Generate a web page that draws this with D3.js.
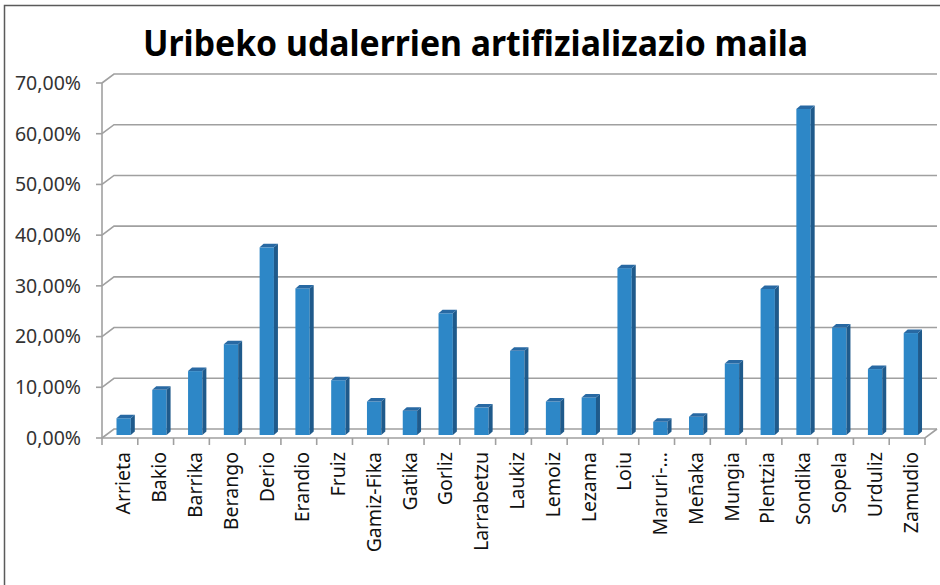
<!DOCTYPE html>
<html>
<head>
<meta charset="utf-8">
<script src="https://cdn.jsdelivr.net/npm/d3@7"></script>
<style>
html,body{margin:0;padding:0;background:#fff;}
svg{display:block;}
</style>
</head>
<body>
<svg id="chart" width="940" height="585"></svg>
<script>
const title = "Uribeko udalerrien artifizializazio maila";
const categories = ["Arrieta","Bakio","Barrika","Berango","Derio","Erandio","Fruiz","Gamiz-Fika","Gatika","Gorliz","Larrabetzu","Laukiz","Lemoiz","Lezama","Loiu","Maruri-…","Meñaka","Mungia","Plentzia","Sondika","Sopela","Urduliz","Zamudio"];
const values = [3.3, 8.9, 12.6, 17.9, 37.0, 28.9, 10.8, 6.6, 4.8, 24.0, 5.4, 16.6, 6.6, 7.4, 32.9, 2.6, 3.6, 14.1, 28.8, 64.3, 21.2, 13.0, 20.1];
const yTicks = [0, 10, 20, 30, 40, 50, 60, 70];
const yTickLabels = ["0,00%","10,00%","20,00%","30,00%","40,00%","50,00%","60,00%","70,00%"];

const svg = d3.select("#chart");
const font = "'Noto Sans', 'Open Sans', sans-serif";

// chart area border
svg.append("rect").attr("x",4.5).attr("y",5.5).attr("width",960).attr("height",620)
  .attr("fill","none").attr("stroke","#5a5a5a").attr("stroke-width",1.5);

const x = d3.scaleBand().domain(categories).range([102, 925]).padding(0);
const y = d3.scaleLinear().domain([0, 70]).range([438, 83]);
const dX = 12, dY = -9;         // depth of the 3D wall
const bdX = 4, bdY = -3.5;      // bar depth
const bOff = -3;                // bar baseline offset (mid depth)

// gridlines (back wall + side diagonal)
const grid = svg.append("g");
yTicks.forEach(t => {
  const yy = y(t);
  grid.append("path")
    .attr("d", `M${x.range()[0]},${yy} L${x.range()[0]+dX},${yy+dY} L${x.range()[1]+dX},${yy+dY}`)
    .attr("fill","none").attr("stroke","#a0a0a0").attr("stroke-width",1.6);
});

// floor front line + right diagonal
svg.append("path")
  .attr("d", `M${x.range()[0]},${y(0)} L${x.range()[1]},${y(0)} L${x.range()[1]+dX},${y(0)+dY}`)
  .attr("fill","none").attr("stroke","#a0a0a0").attr("stroke-width",1.6);

// y axis
svg.append("line").attr("x1",x.range()[0]).attr("x2",x.range()[0]).attr("y1",y(0)).attr("y2",y(70))
  .attr("stroke","#a0a0a0").attr("stroke-width",1.6);
yTicks.forEach((t,i) => {
  svg.append("line").attr("x1",96).attr("x2",102).attr("y1",y(t)).attr("y2",y(t))
    .attr("stroke","#a0a0a0").attr("stroke-width",1.6);
  svg.append("text").attr("x",81).attr("y",y(t)).attr("dy","0.35em")
    .attr("text-anchor","end").attr("font-family",font).attr("font-size",19.5)
    .attr("fill","#333").text(yTickLabels[i]);
});

// x ticks
const xt = categories.map(c => x(c)).concat([x.range()[1]]);
xt.forEach(v => {
  svg.append("line").attr("x1",v).attr("x2",v).attr("y1",y(0)).attr("y2",y(0)+7)
    .attr("stroke","#a0a0a0").attr("stroke-width",1.6);
});

// bars
const bw = x.bandwidth();
const bars = svg.append("g");
categories.forEach((c,i) => {
  const L = x(c) + bw*0.405;
  const R = L + bw*0.40;
  const top = y(values[i]) + bOff;
  const bot = y(0) + bOff;
  bars.append("rect").attr("x",L).attr("y",top).attr("width",R-L).attr("height",bot-top).attr("fill","#2D87C7");
  bars.append("path").attr("d",`M${R},${top} L${R+bdX},${top+bdY} L${R+bdX},${bot+bdY} L${R},${bot}Z`).attr("fill","#1F5A8B");
  bars.append("path").attr("d",`M${L},${top} L${L+bdX},${top+bdY} L${R+bdX},${top+bdY} L${R},${top}Z`).attr("fill","#2869A3");
});

// x labels
categories.forEach(c => {
  const cx = x(c) + bw/2 + 10.5;
  svg.append("text").attr("transform",`translate(${cx},452) rotate(-90)`)
    .attr("text-anchor","end").attr("font-family",font).attr("font-size",19.5)
    .attr("fill","#111").text(c);
});

// title
svg.append("text").attr("x",475.5).attr("y",56).attr("text-anchor","middle")
  .attr("font-family",font).attr("font-weight","bold").attr("font-size",36)
  .attr("textLength",665).attr("lengthAdjust","spacingAndGlyphs")
  .attr("fill","#000").text(title);
</script>
</body>
</html>
